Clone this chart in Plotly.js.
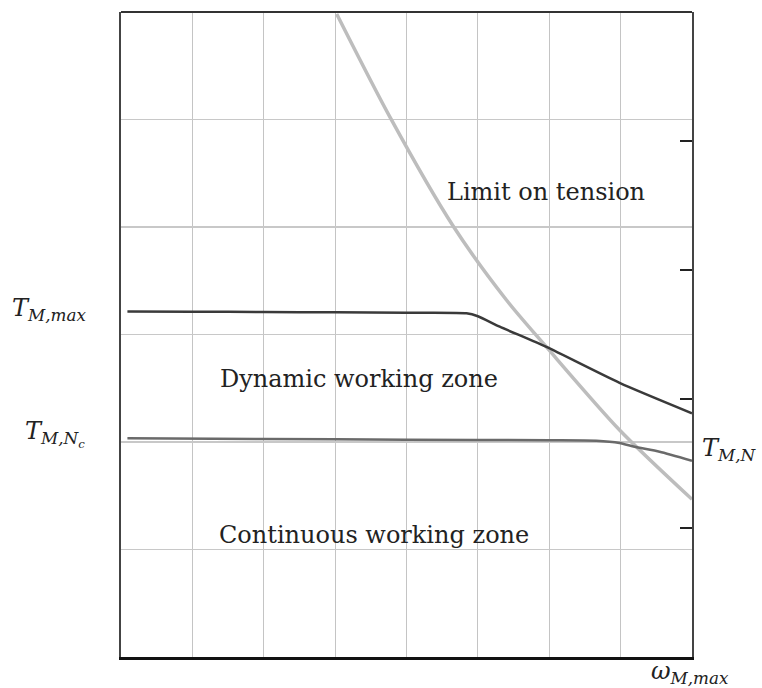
<!DOCTYPE html>
<html>
<head>
<meta charset="utf-8">
<script src="https://cdn.plot.ly/plotly-3.0.1.min.js"></script>
<style>html,body{margin:0;padding:0;background:#fff;}#chart{width:762px;height:688px;}</style>
</head>
<body>
<div id="chart"></div>
<script>
// Peak torque curve T_M,max
const tmaxX = [0.09, 1, 2, 3, 4, 4.84, 5.0, 5.306, 5.96, 6.985, 8.0];
const tmaxY = [3.215, 3.212, 3.209, 3.206, 3.202, 3.197, 3.17, 3.073, 2.884, 2.55, 2.267];
// Continuous torque curve T_M,Nc
const tncX = [0.09, 2, 4, 6.0, 6.66, 6.985, 7.195, 7.546, 8.0];
const tncY = [2.034, 2.028, 2.022, 2.016, 2.012, 1.991, 1.956, 1.91, 1.826];
// Voltage (tension) limit curve
const limX = [3.022, 3.782, 4.653, 5.400, 5.960, 6.985, 8.0];
const limY = [5.981, 5.005, 4.009, 3.321, 2.884, 2.112, 1.467];
// Right axis tick positions (secondary scale 0..5)
const rightTicks = [1, 2, 3, 4];

const serif = "DejaVu Serif";
const traces = [
  {x: limX, y: limY, mode: 'lines', line: {color: '#bdbdbd', width: 3.5, shape: 'spline', smoothing: 0.8}, hoverinfo: 'skip'},
  {x: tmaxX, y: tmaxY, mode: 'lines', line: {color: '#3a3a3a', width: 2.5, shape: 'spline', smoothing: 0.6}, hoverinfo: 'skip'},
  {x: tncX, y: tncY, mode: 'lines', line: {color: '#6a6a6a', width: 2.5, shape: 'spline', smoothing: 0.6}, hoverinfo: 'skip'},
  {x: [0], y: [0], yaxis: 'y2', mode: 'markers', marker: {opacity: 0}, hoverinfo: 'skip'}
];

const txt = {family: serif, size: 24, color: '#222'};
const mth = {family: serif, size: 24, color: '#222'};
const layout = {
  width: 762, height: 688,
  margin: {l: 121, r: 70, t: 12, b: 31},
  paper_bgcolor: '#fff', plot_bgcolor: '#fff',
  showlegend: false,
  xaxis: {range: [0, 8], dtick: 1, tick0: 0, showticklabels: false, ticks: '',
          showgrid: true, gridcolor: '#c4c4c4', gridwidth: 1.2, zeroline: false,
          showline: true, linecolor: '#111', linewidth: 3},
  yaxis: {range: [0, 6], dtick: 1, tick0: 0, showticklabels: false, ticks: '',
          showgrid: true, gridcolor: '#c8c8c8', gridwidth: 1.5, zeroline: false,
          showline: true, linecolor: '#444', linewidth: 2, mirror: true},
  yaxis2: {overlaying: 'y', side: 'right', range: [0, 5], tickvals: rightTicks,
           ticks: 'inside', ticklen: 12, tickwidth: 1.5, tickcolor: '#222',
           showticklabels: false, showgrid: false, zeroline: false, showline: false},
  shapes: [
    {type: 'line', xref: 'paper', yref: 'paper', x0: 0, x1: 1, y0: 1, y1: 1, line: {color: '#333', width: 2}}
  ],
  annotations: [
    {x: 4.537, y: 4.326, xref: 'x', yref: 'y', text: 'Limit on tension', showarrow: false, xanchor: 'left', yanchor: 'middle', font: txt},
    {x: 1.363, y: 2.586, xref: 'x', yref: 'y', text: 'Dynamic working zone', showarrow: false, xanchor: 'left', yanchor: 'middle', font: txt},
    {x: 1.35, y: 1.135, xref: 'x', yref: 'y', text: 'Continuous working zone', showarrow: false, xanchor: 'left', yanchor: 'middle', font: txt},
    {x: -0.0578, y: 0.538, xref: 'paper', yref: 'paper', text: '<i>T<sub>M,max</sub></i>', showarrow: false, xanchor: 'right', yanchor: 'middle', font: mth},
    {x: -0.0595, y: 0.3457, xref: 'paper', yref: 'paper', text: '<i>T<sub>M,N<sub>c</sub></sub></i>', showarrow: false, xanchor: 'right', yanchor: 'middle', font: mth},
    {x: 1.014, y: 0.321, xref: 'paper', yref: 'paper', text: '<i>T<sub>M,N</sub></i>', showarrow: false, xanchor: 'left', yanchor: 'middle', font: mth},
    {x: 0.925, y: -0.0233, xref: 'paper', yref: 'paper', text: '<i>ω<sub>M,max</sub></i>', showarrow: false, xanchor: 'left', yanchor: 'middle', font: mth}
  ]
};
Plotly.newPlot('chart', traces, layout, {staticPlot: true, displayModeBar: false});
</script>
</body>
</html>
